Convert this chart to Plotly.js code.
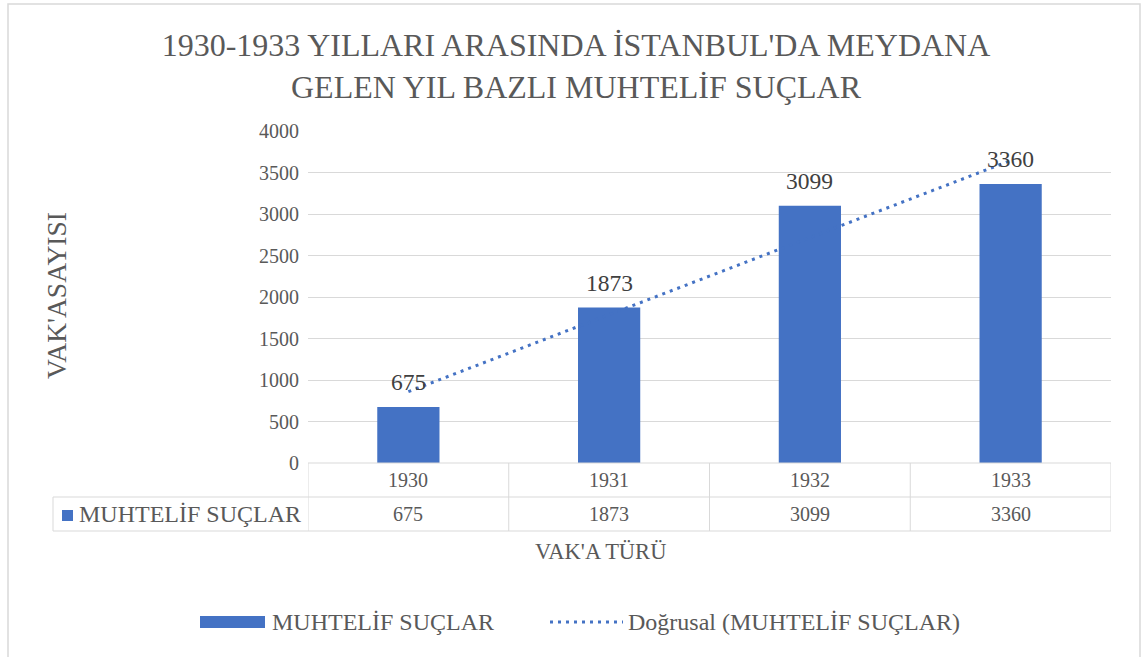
<!DOCTYPE html>
<html>
<head>
<meta charset="utf-8">
<script src="https://cdn.plot.ly/plotly-3.0.1.min.js"></script>
<style>html,body{margin:0;padding:0;background:#fff;}#chart{width:1141px;height:657px;}</style>
</head>
<body>
<div id="chart"></div>
<script>
const categories = ['1930', '1931', '1932', '1933'];
const seriesName = 'MUHTELİF SUÇLAR';
const values = [675, 1873, 3099, 3360];
const trendName = 'Doğrusal (MUHTELİF SUÇLAR)';
const yTickValues = [0, 500, 1000, 1500, 2000, 2500, 3000, 3500, 4000];

// linear least-squares trendline (Excel "Doğrusal")
const n = values.length;
const xs = values.map((_, i) => i + 1);
const mx = xs.reduce((a, b) => a + b, 0) / n;
const my = values.reduce((a, b) => a + b, 0) / n;
let sxy = 0, sxx = 0;
xs.forEach((x, i) => { sxy += (x - mx) * (values[i] - my); sxx += (x - mx) * (x - mx); });
const slope = sxy / sxx, intercept = my - slope * mx;
const trend = xs.map(x => intercept + slope * x);

const W = 1141, H = 657;
const M = {l: 308, r: 30, t: 131, b: 194};
const PW = W - M.l - M.r, PH = H - M.t - M.b;
const px = p => (p - M.l) / PW;      // pixel x -> paper
const py = p => (H - M.b - p) / PH;  // pixel y -> paper

const BLUE = '#4472C4', GRID = '#d9d9d9', TXT = '#595959';
const FONT = '"Liberation Serif", serif';

const traces = [
  {type: 'bar', x: categories, y: values, name: seriesName, marker: {color: BLUE},
   width: 0.31, hoverinfo: 'x+y', showlegend: false},
  {type: 'scatter', mode: 'lines', x: categories, y: trend, name: trendName,
   line: {color: BLUE, width: 3, dash: '3px,5px'}, showlegend: false, hoverinfo: 'skip'}
];

const shapes = [];
const annotations = [];
const line = (x0, y0, x1, y1, xref) => shapes.push({type: 'line', xref: xref || 'paper', yref: 'paper', x0, y0, x1, y1, line: {color: GRID, width: 1}, layer: 'above'});
const txt = (xref, x, y, text, size, opts) => annotations.push(Object.assign({xref, yref: 'paper', x, y, text, showarrow: false,
  xanchor: 'center', yanchor: 'middle', font: {family: FONT, size, color: TXT}}, opts || {}));

// value labels above bars
values.forEach((v, i) => annotations.push({xref: 'x', yref: 'y', x: i, y: v, yshift: 25, text: String(v), showarrow: false,
  xanchor: 'center', yanchor: 'middle', font: {family: FONT, size: 23.5, color: '#404040'}}));

// data table
const r0 = py(463), r1 = py(497), r2 = py(531);
const leftX = px(53);
line(0, r0, 1, r0);
line(leftX, r1, 1, r1);
line(leftX, r2, 1, r2);
line(leftX, r1, leftX, r2);
categories.forEach((c, i) => {
  line(i - 0.5, r0, i - 0.5, r2, 'x');
  txt('x', i, (r0 + r1) / 2, c, 20);
  txt('x', i, (r1 + r2) / 2, String(values[i]), 20);
});
line(categories.length - 0.5, r0, categories.length - 0.5, r2, 'x');
// legend key in table
shapes.push({type: 'rect', xref: 'paper', yref: 'paper', x0: px(62), x1: px(73), y0: py(521), y1: py(510), fillcolor: BLUE, line: {width: 0}});
txt('paper', px(77), (r1 + r2) / 2, seriesName, 24, {xanchor: 'left'});

// axis titles
txt('paper', px(600), py(551), "VAK'A TÜRÜ", 22.5);
txt('paper', px(56), py(296), "VAK'ASAYISI", 27.5, {textangle: -90});

// legend
shapes.push({type: 'rect', xref: 'paper', yref: 'paper', x0: px(200), x1: px(265), y0: py(628), y1: py(616), fillcolor: BLUE, line: {width: 0}});
txt('paper', px(270), py(622), seriesName, 24, {xanchor: 'left'});
shapes.push({type: 'line', xref: 'paper', yref: 'paper', x0: px(550), x1: px(623), y0: py(622), y1: py(622), line: {color: BLUE, width: 3, dash: '3px,5px'}});
txt('paper', px(626), py(622), trendName, 24, {xanchor: 'left'});

// outer chart border
shapes.push({type: 'rect', xref: 'paper', yref: 'paper', x0: px(8), x1: px(1140), y0: py(4), y1: py(700), line: {color: GRID, width: 1.5}, layer: 'below'});

const layout = {
  width: W, height: H,
  margin: M,
  paper_bgcolor: '#fff', plot_bgcolor: '#fff',
  font: {family: FONT, color: TXT},
  title: {text: "1930-1933 YILLARI ARASINDA İSTANBUL'DA MEYDANA<br>GELEN YIL BAZLI MUHTELİF SUÇLAR",
    font: {family: FONT, size: 32, color: TXT}, x: px(576), xanchor: 'center', xref: 'paper', y: 1 - 56 / H, yanchor: 'middle'},
  xaxis: {type: 'category', range: [-0.5, 3.5], showticklabels: false, showgrid: false, zeroline: false, showline: false, ticks: '', fixedrange: true},
  yaxis: {range: [0, 4000], tickvals: yTickValues, showgrid: true, gridcolor: GRID, gridwidth: 1, zeroline: false, showline: false,
    tickfont: {family: FONT, size: 20, color: TXT}, ticks: '', ticklabelstandoff: 8, fixedrange: true},
  shapes, annotations,
  showlegend: false
};

const draw = () => Plotly.newPlot('chart', traces, layout, {displayModeBar: false, staticPlot: true});
if (document.fonts && document.fonts.load) {
  document.fonts.load('20px "Liberation Serif"').then(draw, draw);
} else { draw(); }
</script>
</body>
</html>
